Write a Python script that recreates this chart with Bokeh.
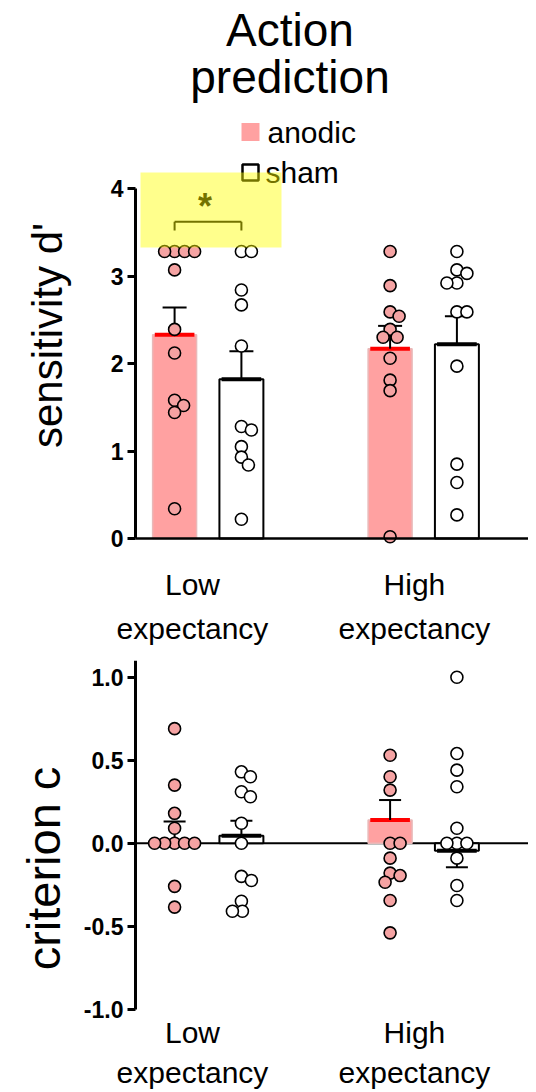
import math
from bokeh.plotting import figure
from bokeh.models import FixedTicker, LinearAxis, Range1d, ColumnDataSource
from bokeh.layouts import column
from bokeh.embed import file_html
from bokeh.resources import INLINE
from bokeh.core.properties import value

# ---------------- data ----------------
conditions = ["anodic", "sham"]
x_tick_labels = ["Low\nexpectancy", "High\nexpectancy"]

dprime_low_anodic = [3.28, 3.28, 3.28, 3.28, 3.07, 2.39, 2.12, 1.58, 1.52, 1.44, 0.34]
dprime_low_sham = [3.28, 3.28, 2.84, 2.67, 2.20, 1.28, 1.24, 1.05, 0.93, 0.84, 0.22]
dprime_high_anodic = [3.28, 2.89, 2.59, 2.54, 2.39, 2.30, 2.30, 2.06, 1.81, 1.69, 0.02]
dprime_high_sham = [3.28, 3.07, 3.03, 2.92, 2.92, 2.59, 2.59, 1.97, 0.85, 0.64, 0.27]
dprime_mean = [2.33, 1.82, 2.17, 2.22]      # low anodic, low sham, high anodic, high sham
dprime_sem = [0.31, 0.32, 0.26, 0.32]

crit_low_anodic = [0.69, 0.35, 0.18, 0.09, 0.0, 0.0, 0.0, 0.0, 0.0, -0.26, -0.385]
crit_low_sham = [0.43, 0.40, 0.31, 0.28, 0.12, 0.0, -0.20, -0.225, -0.35, -0.41, -0.41]
crit_high_anodic = [0.53, 0.40, 0.32, 0.0, 0.0, -0.09, -0.18, -0.195, -0.235, -0.345, -0.54]
crit_high_sham = [1.00, 0.54, 0.44, 0.34, 0.09, 0.0, 0.0, 0.0, -0.09, -0.255, -0.345]
crit_mean = [0.015, 0.045, 0.14, -0.045]
crit_sem = [0.115, 0.09, 0.12, 0.10]

dprime_ticks = [0, 1, 2, 3, 4]
crit_ticks = [-1.0, -0.5, 0.0, 0.5, 1.0]
crit_tick_labels = ["-1.0", "-0.5", "0.0", "0.5", "1.0"]

# ---------------- layout / style ----------------
FONT = "Liberation Sans"
PINK_BAR = "#ffa1a1"
PINK_PT = "#f5a3a3"
RED = "#ff0000"
W = 528
PX_X = 215.5                     # pixels per x unit (groups at x = 1 and 2)
GX_PIX = 207.5                   # pixel column of group 1
X0 = 1 - GX_PIX / PX_X
X1 = 1 + (W - GX_PIX) / PX_X
AXIS_X = 1 - (GX_PIX - 135) / PX_X
OFF = 0.155                      # bar offset from group centre
BW = 0.204                       # bar width
TICK_POS = [0.928, 1.958]        # where category labels sit
group_x = [1.0, 2.0]
bar_x = [group_x[0] - OFF, group_x[0] + OFF, group_x[1] - OFF, group_x[1] + OFF]


def xpix(px):
    return 1 + (px - GX_PIX) / PX_X


def swarm(vals, px_per_y, diam=10.0):
    placed, out = [], []
    for v in vals:
        y = v * px_per_y
        best = None
        for k in range(0, 80):
            for cand in ([0] if k == 0 else [k, -k]):
                if all((cand - a) ** 2 + (y - b) ** 2 >= diam ** 2 for a, b in placed):
                    best = cand
                    break
            if best is not None:
                break
        placed.append((best, y))
        out.append(best / PX_X)
    return out


def make_fig(h, y0, y1):
    p = figure(width=W, height=h, x_range=Range1d(X0, X1), y_range=Range1d(y0, y1),
               output_backend="svg", toolbar_location=None,
               x_axis_location=None, y_axis_location=None, min_border=0)
    p.grid.visible = False
    p.outline_line_color = None
    p.background_fill_color = "white"
    p.border_fill_color = "white"
    return p


def y_axis(p, ticks, bounds, overrides=None):
    ya = LinearAxis(fixed_location=AXIS_X, bounds=bounds, ticker=FixedTicker(ticks=ticks))
    ya.axis_line_width = 3
    ya.axis_line_color = "black"
    ya.major_tick_line_width = 3
    ya.major_tick_line_color = "black"
    ya.major_tick_out = 8
    ya.major_tick_in = 0
    ya.minor_tick_line_color = None
    ya.major_label_text_font = FONT
    ya.major_label_text_font_style = "bold"
    ya.major_label_text_font_size = "23px"
    ya.major_label_text_color = "black"
    ya.major_label_standoff = 4
    if overrides:
        ya.major_label_overrides = overrides
    p.add_layout(ya, "left")


def x_axis(p, loc, standoff, show_line, line_height):
    xa = LinearAxis(fixed_location=loc, bounds=(AXIS_X, X1), ticker=FixedTicker(ticks=TICK_POS))
    xa.major_label_overrides = {TICK_POS[i]: x_tick_labels[i] for i in range(2)}
    xa.major_tick_line_color = None
    xa.minor_tick_line_color = None
    xa.axis_line_color = "black" if show_line else None
    xa.axis_line_width = 2.5
    xa.major_label_text_font = FONT
    xa.major_label_text_font_size = "30px"
    xa.major_label_text_color = "black"
    xa.major_label_text_line_height = line_height
    xa.major_label_standoff = standoff
    p.add_layout(xa, "below")


def draw_group(p, series, means, sems, px_per_y, cap_px_half):
    src_a = ColumnDataSource(dict(x=[bar_x[0], bar_x[2]], top=[means[0], means[2]]))
    src_s = ColumnDataSource(dict(x=[bar_x[1], bar_x[3]], top=[means[1], means[3]]))
    p.vbar(x="x", top="top", bottom=0, width=BW, source=src_a,
           fill_color=PINK_BAR, line_color="#e9b9b9", line_width=1.5)
    p.vbar(x="x", top="top", bottom=0, width=BW, source=src_s,
           fill_color="white", line_color="black", line_width=2)
    for i in range(4):
        col = RED if i % 2 == 0 else "black"
        p.segment(x0=bar_x[i] - BW / 2 + 0.01, x1=bar_x[i] + BW / 2 - 0.01,
                  y0=means[i], y1=means[i], line_color=col, line_width=4)
    for i in range(4):
        sgn = 1 if means[i] >= 0 else -1
        end = means[i] + sgn * sems[i]
        p.segment(x0=bar_x[i], x1=bar_x[i], y0=means[i], y1=end,
                  line_color="black", line_width=2)
        p.segment(x0=bar_x[i] - cap_px_half / PX_X, x1=bar_x[i] + cap_px_half / PX_X,
                  y0=end, y1=end, line_color="black", line_width=2)
    for i, vals in enumerate(series):
        offs = swarm(vals, px_per_y)
        xs = [bar_x[i] + o for o in offs]
        p.scatter(x=xs, y=vals, size=12, marker="circle",
                  fill_color=PINK_PT if i % 2 == 0 else "white",
                  line_color="black", line_width=1.6)


def txt(p, x, y, s, size, angle=0.0, align="center", baseline="alphabetic", style="normal"):
    p.text(x=[x], y=[y], text=[s], angle=angle, text_align=align, text_baseline=baseline,
           text_font=value(FONT), text_font_size=size, text_font_style=style,
           text_color="black")


# ---------------- top panel: sensitivity d' ----------------
H1 = 660
PXY1 = 87.5
ZERO1 = 538.0
p1 = make_fig(H1, -(H1 - ZERO1) / PXY1, ZERO1 / PXY1)
y_axis(p1, dprime_ticks, (0, 4))
x_axis(p1, 0, 23, True, 1.35)

draw_group(p1, [dprime_low_anodic, dprime_low_sham, dprime_high_anodic, dprime_high_sham],
           dprime_mean, dprime_sem, PXY1, 12)

# title
txt(p1, xpix(289.5), (ZERO1 - 29) / PXY1, "Action", "46px")
txt(p1, xpix(289.5), (ZERO1 - 76) / PXY1, "prediction", "46px")
# y axis title
txt(p1, xpix(47), (ZERO1 - 335) / PXY1, "sensitivity d'", "42px",
    angle=math.pi / 2, baseline="middle")

# legend
leg_y = [(ZERO1 - 131.5) / PXY1, (ZERO1 - 172) / PXY1]
p1.scatter(x=[xpix(250)], y=[leg_y[0]], marker="square", size=18,
           fill_color=PINK_BAR, line_color=None)
p1.scatter(x=[xpix(250)], y=[leg_y[1]], marker="square", size=16,
           fill_color="white", line_color="black", line_width=2.5)
txt(p1, xpix(267), leg_y[0], conditions[0], "30px", align="left", baseline="middle")
txt(p1, xpix(265), leg_y[1], conditions[1], "30px", align="left", baseline="middle")

# significance bracket
yb = 3.62
p1.segment(x0=bar_x[0], x1=bar_x[1], y0=yb, y1=yb, line_color="black", line_width=2)
p1.segment(x0=[bar_x[0], bar_x[1]], x1=[bar_x[0], bar_x[1]], y0=[yb, yb],
           y1=[yb - 0.1, yb - 0.1], line_color="black", line_width=2)
txt(p1, xpix(204.5), 3.79, "*", "36px", style="bold")

# translucent highlight
p1.quad(left=[xpix(140)], right=[xpix(281)], bottom=[(ZERO1 - 247) / PXY1],
        top=[(ZERO1 - 172) / PXY1], fill_color="#ffff00", fill_alpha=0.45, line_color=None)

# ---------------- bottom panel: criterion c ----------------
H2 = 1092 - H1
PXY2 = 166.0
ZERO2 = 842.7 - H1
p2 = make_fig(H2, -(H2 - ZERO2) / PXY2, ZERO2 / PXY2)
y_axis(p2, crit_ticks, (-1.0, ZERO2 / PXY2),
       {crit_ticks[i]: crit_tick_labels[i] for i in range(5)})
x_axis(p2, -1.0, 1, False, 1.2)
p2.segment(x0=[AXIS_X], x1=[X1], y0=[0], y1=[0], line_color="black", line_width=2)

draw_group(p2, [crit_low_anodic, crit_low_sham, crit_high_anodic, crit_high_sham],
           crit_mean, crit_sem, PXY2, 11)

txt(p2, xpix(43), (ZERO2 - (868 - H1)) / PXY2, "criterion c", "47px",
    angle=math.pi / 2, baseline="middle")

layout = column(p1, p2, spacing=0)
open("out.html", "w").write(file_html(layout, INLINE))
